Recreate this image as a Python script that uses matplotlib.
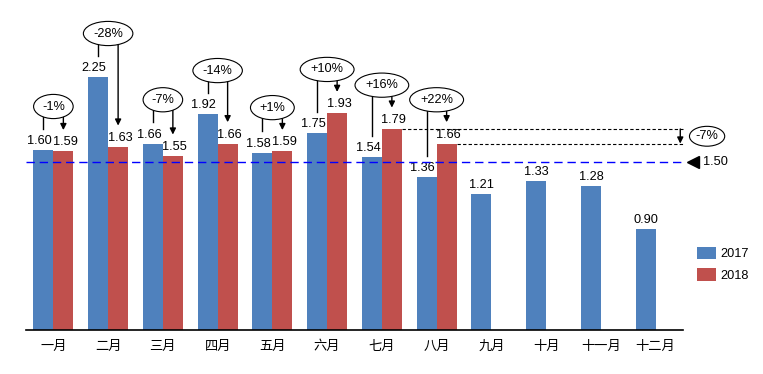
import matplotlib.pyplot as plt
import numpy as np

months = ['一月', '二月', '三月', '四月', '五月', '六月',
          '七月', '八月', '九月', '十月', '十一月', '十二月']
v2017 = [1.60, 2.25, 1.66, 1.92, 1.58, 1.75, 1.54, 1.36, 1.21, 1.33, 1.28, 0.90]
v2018 = [1.59, 1.63, 1.55, 1.66, 1.59, 1.93, 1.79, 1.66]
target = 1.50

blue = '#4F81BD'
red = '#C0504D'
num_font = 'Liberation Sans'
fs = 9.2

fig = plt.figure(figsize=(7.63, 3.74), dpi=100)
ax = fig.add_axes([26/763, 44/374, 657/763, 325.7/374])

x = np.arange(len(months))
w = 0.365
x18 = x[:len(v2018)]

b17 = ax.bar(x - w/2, v2017, w, color=blue, label='2017', zorder=2)
b18 = ax.bar(x18 + w/2, v2018, w, color=red, label='2018', zorder=2)

# value labels
for i, v in enumerate(v2017):
    dx = -4 if i < len(v2018) else 0
    ax.annotate(f'{v:.2f}', (x[i] - w/2, v), xytext=(dx, 3), textcoords='offset pixels',
                ha='center', va='bottom', fontsize=fs, family=num_font)
for i, v in enumerate(v2018):
    ax.annotate(f'{v:.2f}', (x[i] + w/2, v), xytext=(2, 3), textcoords='offset pixels',
                ha='center', va='bottom', fontsize=fs, family=num_font)

# change bubbles
arrow = dict(arrowstyle='-|>', color='black', lw=1, mutation_scale=9,
             shrinkA=0, shrinkB=0)
for i in range(len(v2018)):
    a, b = v2017[i], v2018[i]
    top = max(a, b) + 0.39
    pct = (b - a) / a
    ax.text(x[i], top, f'{pct:+.0%}', ha='center', va='center', fontsize=fs,
            family=num_font, zorder=6,
            bbox=dict(boxstyle='ellipse,pad=0.2', fc='white', ec='black', lw=0.8))
    ax.plot([x[i] - w/2] * 2, [top, a + 0.19], color='black', lw=1, zorder=4)
    ax.annotate('', xy=(x[i] + w/2, b + 0.19), xytext=(x[i] + w/2, top),
                arrowprops=arrow, zorder=4)

# target line
ax.axhline(target, color='#0000FF', lw=1, ls=(0, (6, 3.5)), zorder=3)
ax.plot(11.68, target, marker='<', color='black', ms=8, clip_on=False)
ax.text(11.86, target, f'{target:.2f}', ha='left', va='center', fontsize=fs,
        family=num_font)

# July vs August 2018
j, k = 6, 7
ax.plot([x[j] + w, 11.5], [v2018[j]] * 2, color='black', lw=0.8,
        ls=(0, (3, 2)), clip_on=False)
ax.plot([x[k] + w, 11.5], [v2018[k]] * 2, color='black', lw=0.8,
        ls=(0, (3, 2)), clip_on=False)
ax.annotate('', xy=(11.45, v2018[k]), xytext=(11.45, v2018[j]),
            arrowprops=arrow, annotation_clip=False)
ax.text(11.94, (v2018[j] + v2018[k]) / 2, f'{(v2018[k] - v2018[j]) / v2018[j]:+.0%}',
        ha='center', va='center', fontsize=fs, family=num_font, clip_on=False,
        bbox=dict(boxstyle='ellipse,pad=0.08', fc='white', ec='black', lw=0.8))

ax.set_xlim(-0.5, 11.5)
ax.set_ylim(0, 2.9)
ax.set_xticks(x)
ax.set_xticklabels(months, family=['Noto Sans CJK SC', 'DejaVu Sans'], fontsize=9.5)
ax.tick_params(axis='x', length=0, pad=7)
ax.set_yticks([])
for s in ['top', 'right', 'left']:
    ax.spines[s].set_visible(False)
ax.spines['bottom'].set_linewidth(1.2)

fig.legend(handles=[b17, b18], loc='upper left', bbox_to_anchor=(685/763, 1 - 235/374),
           frameon=False, prop={'family': num_font, 'size': fs},
           handlelength=1.5, handleheight=1.1, labelspacing=0.65, handletextpad=0.4)

fig.savefig('out.png', dpi=100)
